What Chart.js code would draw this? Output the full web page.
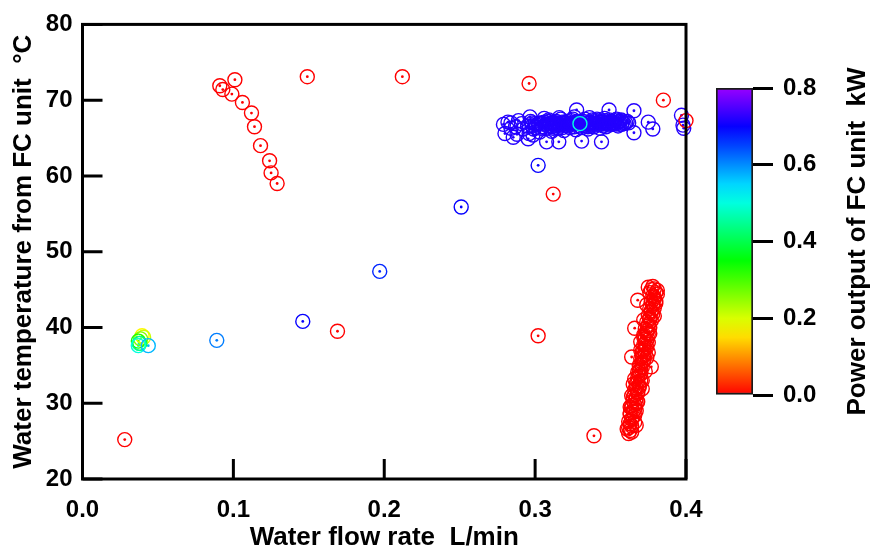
<!DOCTYPE html>
<html>
<head>
<meta charset="utf-8">
<script src="https://cdn.jsdelivr.net/npm/chart.js@4.4.1/dist/chart.umd.min.js"></script>
<style>
  html, body { margin: 0; padding: 0; background: #fff; }
  #wrap { position: relative; width: 871px; height: 552px; }
  #main { position: absolute; left: 0; top: 0; }
  #bar  { position: absolute; left: 700px; top: 0; }
</style>
</head>
<body>
<div id="wrap">
  <canvas id="main" width="871" height="552"></canvas>
  <canvas id="bar" width="171" height="552"></canvas>
</div>
<script>
// Measurements: water flow rate (L/min), outlet water temperature (°C), FC power output (kW)

// High-output operation around 0.33 L/min, 67 °C
const highFlow = [
  0.282, 0.280, 0.2855, 0.291, 0.2966, 0.2954, 0.2986, 0.3076, 0.3157, 0.3275, 0.3308, 0.344,
  0.349, 0.3573, 0.3655, 0.3655, 0.375, 0.378, 0.397, 0.398, 0.3985, 0.284, 0.279, 0.288,
  0.292, 0.295, 0.298, 0.300, 0.302, 0.304, 0.306, 0.308, 0.310, 0.312, 0.314, 0.316,
  0.318, 0.320, 0.322, 0.324, 0.326, 0.328, 0.332, 0.334, 0.336, 0.338, 0.340, 0.342,
  0.344, 0.346, 0.348, 0.350, 0.352, 0.355, 0.357, 0.359, 0.303, 0.311, 0.319, 0.327,
  0.335, 0.343, 0.306, 0.316, 0.326, 0.336, 0.346, 0.354, 0.287, 0.289, 0.296, 0.284,
  0.301, 0.303, 0.305, 0.307, 0.309, 0.311, 0.313, 0.315, 0.317, 0.319,
  0.321, 0.323, 0.325, 0.327, 0.329, 0.331, 0.333, 0.335, 0.337, 0.339,
  0.341, 0.343, 0.345, 0.347, 0.349, 0.351, 0.353, 0.356, 0.358, 0.360,
  0.304, 0.308, 0.312, 0.316, 0.320, 0.324, 0.328, 0.332, 0.336, 0.340,
  0.344, 0.348, 0.352, 0.356, 0.310, 0.314, 0.318, 0.322, 0.326, 0.330,
  0.334, 0.338, 0.342, 0.346, 0.350, 0.354, 0.307, 0.315, 0.323, 0.331,
  0.339, 0.347, 0.355, 0.309, 0.317, 0.325, 0.333, 0.341, 0.349, 0.357,
  0.298, 0.300, 0.297, 0.299, 0.362, 0.361, 0.313, 0.321, 0.329, 0.337
];
const highTemp = [
  67.1, 65.6, 65.1, 66.9, 67.8, 64.9, 65.4, 64.5, 64.5, 68.7, 64.6, 64.5,
  68.7, 66.8, 68.6, 65.7, 67.1, 66.2, 68.0, 66.7, 66.3, 66.3, 66.8, 65.5,
  66.2, 66.6, 67.0, 66.4, 66.9, 66.3, 67.1, 66.6, 66.9, 66.3, 67.2, 66.7,
  66.4, 67.0, 66.6, 67.3, 66.5, 66.9, 67.2, 66.6, 66.9, 67.4, 66.7, 67.1,
  66.8, 67.3, 66.9, 67.2, 66.8, 67.1, 67.4, 66.9, 65.8, 65.9, 66.0, 66.1,
  66.2, 66.3, 67.6, 67.7, 67.8, 67.7, 67.6, 67.5, 66.5, 67.3, 65.6, 67.0,
  66.7, 67.0, 66.5, 66.8, 67.2, 66.5, 66.8, 67.0, 66.6, 66.9,
  67.2, 66.7, 66.9, 67.1, 66.6, 66.8, 67.0, 66.5, 67.1, 66.8,
  67.3, 66.9, 66.6, 67.0, 66.7, 67.0, 67.3, 66.8, 67.1, 67.0,
  66.9, 67.0, 67.1, 66.9, 66.7, 66.9, 67.2, 66.7, 67.1, 66.9,
  67.1, 67.1, 67.0, 67.2, 66.7, 66.6, 67.1, 66.9, 67.0, 67.1,
  66.9, 66.9, 66.8, 66.9, 66.8, 66.9, 66.3, 66.3, 66.4, 66.4,
  66.5, 66.5, 66.6, 67.4, 67.5, 67.5, 67.5, 67.5, 67.4, 67.3,
  66.6, 66.9, 67.2, 66.2, 67.0, 67.2, 66.9, 67.0, 66.9, 66.7
];
const highPower = [
  0.72, 0.72, 0.72, 0.72, 0.72, 0.72, 0.72, 0.72, 0.72, 0.72, 0.72, 0.72,
  0.72, 0.72, 0.72, 0.72, 0.72, 0.72, 0.72, 0.72, 0.72, 0.72, 0.72, 0.72,
  0.72, 0.72, 0.72, 0.72, 0.72, 0.72, 0.72, 0.72, 0.72, 0.72, 0.72, 0.72,
  0.72, 0.72, 0.72, 0.72, 0.72, 0.72, 0.72, 0.72, 0.72, 0.72, 0.72, 0.72,
  0.72, 0.72, 0.72, 0.72, 0.72, 0.72, 0.72, 0.72, 0.72, 0.72, 0.72, 0.72,
  0.72, 0.72, 0.72, 0.72, 0.72, 0.72, 0.72, 0.72, 0.72, 0.72, 0.72, 0.72,
  0.72, 0.72, 0.72, 0.72, 0.72, 0.72, 0.72, 0.72, 0.72, 0.72,
  0.72, 0.72, 0.72, 0.72, 0.72, 0.72, 0.72, 0.72, 0.72, 0.72,
  0.72, 0.72, 0.72, 0.72, 0.72, 0.72, 0.72, 0.72, 0.72, 0.72,
  0.72, 0.72, 0.72, 0.72, 0.72, 0.72, 0.72, 0.72, 0.72, 0.72,
  0.72, 0.72, 0.72, 0.72, 0.72, 0.72, 0.72, 0.72, 0.72, 0.72,
  0.72, 0.72, 0.72, 0.72, 0.72, 0.72, 0.72, 0.72, 0.72, 0.72,
  0.72, 0.72, 0.72, 0.72, 0.72, 0.72, 0.72, 0.72, 0.72, 0.72,
  0.72, 0.72, 0.72, 0.72, 0.72, 0.72, 0.72, 0.72, 0.72, 0.72
];

// Transitional operating points
const transFlow  = [0.251, 0.197, 0.146, 0.089, 0.302];
const transTemp  = [55.9, 47.4, 40.8, 38.3, 61.4];
const transPower = [0.70, 0.67, 0.70, 0.61, 0.70];

// Idle (no output): start-up curve, isolated points and circulation band
const idleFlow = [
  0.101, 0.091, 0.093, 0.099, 0.106, 0.112, 0.114, 0.118, 0.124, 0.125, 0.129,
  0.149, 0.212, 0.296, 0.385, 0.312, 0.302, 0.169, 0.028, 0.339, 0.400,
  0.362, 0.363, 0.362, 0.363, 0.364, 0.363, 0.365, 0.364, 0.366, 0.365, 0.367, 0.366,
  0.368, 0.367, 0.369, 0.368, 0.366, 0.369, 0.368, 0.370, 0.369, 0.371, 0.370, 0.372,
  0.371, 0.373, 0.372, 0.370, 0.373, 0.372, 0.374, 0.373, 0.375, 0.374, 0.376, 0.375,
  0.377, 0.376, 0.378, 0.377, 0.379, 0.378, 0.380, 0.377, 0.381, 0.375, 0.368, 0.367,
  0.365, 0.371, 0.374, 0.375, 0.370, 0.372, 0.374, 0.379, 0.380, 0.363, 0.366, 0.364,
  0.368, 0.366, 0.364, 0.377,
  0.364, 0.361, 0.364, 0.362, 0.365, 0.363, 0.366, 0.364, 0.367, 0.365,
  0.368, 0.366, 0.369, 0.367, 0.370, 0.368, 0.370, 0.369, 0.371, 0.370,
  0.372, 0.371, 0.373, 0.372, 0.374, 0.373, 0.374, 0.372, 0.375, 0.374,
  0.376, 0.375, 0.377, 0.376, 0.378, 0.377, 0.379, 0.378, 0.380, 0.379,
  0.381, 0.379, 0.376, 0.378, 0.371, 0.373, 0.375, 0.376, 0.366, 0.367
];
const idleTemp = [
  72.7, 71.9, 71.4, 70.8, 69.7, 68.3, 66.5, 64.0, 62.0, 60.4, 59.0,
  73.1, 73.1, 72.2, 70.0, 57.6, 38.9, 39.5, 25.2, 25.7, 67.3,
  26.0, 26.4, 26.8, 27.3, 27.9, 28.5, 28.9, 29.4, 29.8, 30.3, 30.6, 31.1,
  31.5, 32.0, 32.3, 32.8, 33.2, 33.6, 34.1, 34.5, 35.0, 35.4, 35.9, 36.3,
  36.8, 37.2, 37.7, 38.1, 38.5, 39.0, 39.3, 39.8, 40.2, 40.7, 41.1, 41.6,
  42.0, 42.5, 42.9, 43.4, 43.8, 44.2, 44.6, 45.0, 44.9, 45.3, 30.2, 29.0,
  32.5, 33.0, 36.0, 38.0, 37.0, 41.0, 43.0, 41.5, 43.2, 29.5, 27.5, 31.0,
  43.6, 39.9, 36.1, 34.8,
  26.2, 26.6, 27.0, 27.6, 28.2, 28.7, 29.2, 29.7, 30.0, 30.8,
  31.3, 31.8, 32.1, 32.6, 33.0, 33.4, 33.9, 34.3, 34.7, 35.2,
  35.6, 36.1, 36.5, 37.0, 37.4, 37.9, 38.3, 38.7, 39.1, 39.6,
  40.0, 40.4, 40.9, 41.3, 41.8, 42.2, 42.6, 43.1, 43.5, 44.0,
  44.4, 45.1, 44.6, 45.4, 31.9, 34.2, 36.7, 39.2, 28.4, 27.1
];
const idlePower = [
  0, 0, 0, 0, 0, 0, 0, 0, 0, 0, 0,
  0, 0, 0, 0, 0, 0, 0, 0, 0, 0,
  0, 0, 0, 0, 0, 0, 0, 0, 0, 0, 0, 0,
  0, 0, 0, 0, 0, 0, 0, 0, 0, 0, 0, 0,
  0, 0, 0, 0, 0, 0, 0, 0, 0, 0, 0, 0,
  0, 0, 0, 0, 0, 0, 0, 0, 0, 0, 0, 0,
  0, 0, 0, 0, 0, 0, 0, 0, 0, 0, 0, 0,
  0, 0, 0, 0,
  0, 0, 0, 0, 0, 0, 0, 0, 0, 0,
  0, 0, 0, 0, 0, 0, 0, 0, 0, 0,
  0, 0, 0, 0, 0, 0, 0, 0, 0, 0,
  0, 0, 0, 0, 0, 0, 0, 0, 0, 0,
  0, 0, 0, 0, 0, 0, 0, 0, 0, 0
];

// Partial-load points (low flow cluster) and one mid-output point in the main cluster
const partFlow  = [0.0395, 0.0405, 0.0385, 0.037, 0.038, 0.0375, 0.037, 0.0436, 0.3297];
const partTemp  = [38.9, 38.7, 38.5, 38.2, 37.9, 37.9, 37.6, 37.6, 66.9];
const partPower = [0.17, 0.21, 0.26, 0.33, 0.38, 0.45, 0.50, 0.57, 0.50];

const xTicks = [0, 0.1, 0.2, 0.3, 0.4];
const yTicks = [20, 30, 40, 50, 60, 70, 80];
const cTicks = [0, 0.2, 0.4, 0.6, 0.8];

const xTitle = 'Water flow rate  L/min';
const yTitle = 'Water temperature from FC unit  °C';
const cTitle = 'Power output of FC unit  kW';

const flowRate    = [...highFlow, ...transFlow, ...idleFlow, ...partFlow];
const waterTemp   = [...highTemp, ...transTemp, ...idleTemp, ...partTemp];
const powerOutput = [...highPower, ...transPower, ...idlePower, ...partPower];

// rainbow colour map: red (0 kW) -> violet (0.8 kW)
function powerColor(p) {
  const hue = Math.min(Math.max(p, 0), 0.8) * 345;
  return `hsl(${hue.toFixed(1)}, 100%, 50%)`;
}

const FONT = "'Liberation Sans', Arial, Helvetica, sans-serif";
Chart.defaults.font.family = FONT;
Chart.defaults.color = '#000';

const points = flowRate.map((x, i) => ({ x, y: waterTemp[i] }));
const colors = powerOutput.map(powerColor);

// frame around the plot and inward tick marks
const framePlugin = {
  id: 'frame',
  afterDatasetsDraw(chart) {
    const { ctx, chartArea: a, scales } = chart;
    ctx.save();
    ctx.strokeStyle = '#000';
    ctx.lineWidth = 3;
    ctx.beginPath();
    xTicks.forEach(v => {
      const px = scales.x.getPixelForValue(v);
      ctx.moveTo(px, a.bottom);
      ctx.lineTo(px, a.bottom - 20);
    });
    yTicks.forEach(v => {
      const py = scales.y.getPixelForValue(v);
      ctx.moveTo(a.left, py);
      ctx.lineTo(a.left + 20, py);
    });
    ctx.stroke();
    ctx.strokeRect(a.left, a.top, a.right - a.left, a.bottom - a.top);
    ctx.restore();
  }
};

new Chart(document.getElementById('main'), {
  type: 'scatter',
  data: {
    datasets: [
      {
        data: points,
        pointRadius: 7,
        pointHoverRadius: 7,
        pointBorderWidth: 1.4,
        pointBackgroundColor: 'rgba(0,0,0,0)',
        pointBorderColor: colors,
        clip: false
      },
      {
        data: points,
        pointRadius: 1.4,
        pointHoverRadius: 1.4,
        pointBorderWidth: 0,
        pointBackgroundColor: colors,
        clip: false
      }
    ]
  },
  options: {
    responsive: false,
    animation: false,
    devicePixelRatio: 1,
    layout: { padding: { left: 4, top: 24, right: 185, bottom: 0 } },
    plugins: { legend: { display: false }, tooltip: { enabled: false } },
    scales: {
      x: {
        type: 'linear',
        min: 0, max: 0.4,
        afterBuildTicks: s => { s.ticks = xTicks.map(v => ({ value: v })); },
        afterFit: s => { s.height = 73; },
        grid: { display: false, drawTicks: false },
        border: { display: false },
        ticks: {
          font: { size: 24, weight: 'bold' },
          padding: 17,
          maxRotation: 0,
          callback: v => Number(v).toFixed(1)
        },
        title: {
          display: true, text: xTitle,
          font: { size: 26, weight: 'bold', lineHeight: 1 },
          padding: { top: 0, bottom: 1 }
        }
      },
      y: {
        type: 'linear',
        min: 20, max: 80,
        afterBuildTicks: s => { s.ticks = yTicks.map(v => ({ value: v })); },
        afterFit: s => { s.width = 78.5; },
        grid: { display: false, drawTicks: false },
        border: { display: false },
        ticks: {
          font: { size: 24, weight: 'bold' },
          padding: 10,
          callback: v => String(v)
        },
        title: {
          display: true, text: yTitle,
          font: { size: 26, weight: 'bold', lineHeight: 1.2 },
          padding: { top: 4, bottom: 0 }
        }
      }
    }
  },
  plugins: [framePlugin]
});

// colour bar with its own scale
const barTitlePlugin = {
  id: 'barTitle',
  afterDraw(chart) {
    const { ctx, chartArea: a } = chart;
    ctx.save();
    ctx.fillStyle = '#000';
    ctx.font = `bold 26px ${FONT}`;
    ctx.textAlign = 'center';
    ctx.textBaseline = 'middle';
    ctx.translate(158, (a.top + a.bottom) / 2);
    ctx.rotate(-Math.PI / 2);
    ctx.fillText(cTitle, 0, 0);
    ctx.restore();
  }
};

function barGradient(context) {
  const chart = context.chart;
  const y = chart.scales.y;
  if (!chart.chartArea || !y) return 'rgba(0,0,0,0)';
  const g = chart.ctx.createLinearGradient(0, y.getPixelForValue(0), 0, y.getPixelForValue(0.8));
  for (let i = 0; i <= 16; i++) {
    g.addColorStop(i / 16, powerColor(i * 0.05));
  }
  return g;
}

new Chart(document.getElementById('bar'), {
  type: 'bar',
  data: {
    labels: [''],
    datasets: [{
      data: [[cTicks[0], cTicks[cTicks.length - 1]]],
      backgroundColor: barGradient,
      borderColor: '#1a1a1a',
      borderWidth: 2,
      borderSkipped: false,
      barPercentage: 1,
      categoryPercentage: 1
    }]
  },
  options: {
    responsive: false,
    animation: false,
    devicePixelRatio: 1,
    layout: { padding: { left: 16, top: 88, bottom: 157, right: 0 } },
    plugins: { legend: { display: false }, tooltip: { enabled: false } },
    scales: {
      x: { display: false },
      y: {
        position: 'right',
        min: 0, max: 0.8,
        afterBuildTicks: s => { s.ticks = cTicks.map(v => ({ value: v })); },
        afterFit: s => { s.width = 118; },
        grid: { drawOnChartArea: false, drawTicks: true, tickLength: 20, tickColor: '#000', tickWidth: 3 },
        border: { display: false },
        ticks: {
          font: { size: 24, weight: 'bold' },
          padding: 10,
          callback: v => Number(v).toFixed(1)
        }
      }
    }
  },
  plugins: [barTitlePlugin]
});
</script>
</body>
</html>
